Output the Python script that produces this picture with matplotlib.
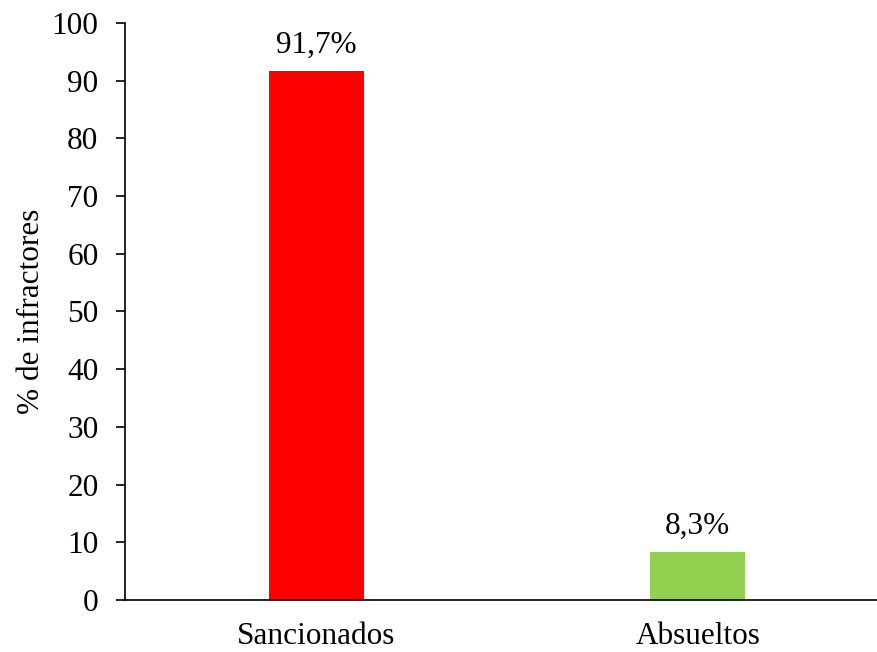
import matplotlib.pyplot as plt

categorias = ['Sancionados', 'Absueltos']
porcentajes = [91.7, 8.3]
etiquetas = ['91,7%', '8,3%']
colores = ['#FF0000', '#92D050']

plt.rcParams['font.family'] = ['Liberation Serif', 'DejaVu Serif']

fig = plt.figure(figsize=(8.77, 6.52), dpi=100)
ax = fig.add_axes([0.1431, 0.0798, 0.8569, 0.8849])

x = range(len(categorias))
bars = ax.bar(x, porcentajes, width=0.25, color=colores)

for b, lab in zip(bars, etiquetas):
    ax.annotate(lab, (b.get_x() + b.get_width() / 2, b.get_height()),
                xytext=(0, 8), textcoords='offset points',
                ha='center', va='bottom', fontsize=22.5)

ax.set_xlim(-0.5, 1.47)
ax.set_ylim(0, 100)
ax.set_yticks(range(0, 101, 10))
ax.set_xticks(list(x))
ax.set_xticklabels(categorias)
ax.tick_params(axis='y', labelsize=22.5, direction='out', length=6.5, width=1.2, pad=13)
ax.tick_params(axis='x', labelsize=22.5, length=0, pad=16)
ax.set_ylabel('% de infractores', fontsize=22.5, labelpad=4)

for s in ['top', 'right']:
    ax.spines[s].set_visible(False)
ax.spines['left'].set_linewidth(1.2)
ax.spines['bottom'].set_linewidth(1.2)

fig.savefig('out.png', dpi=100)
